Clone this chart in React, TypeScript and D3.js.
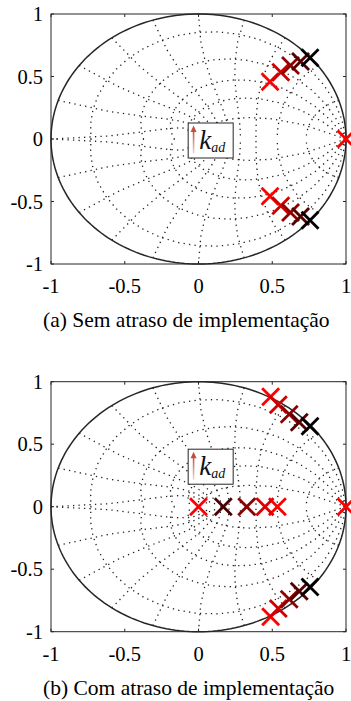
import * as d3 from "d3";

const xTicks = [-1, -0.5, 0, 0.5, 1];
const yTicks = [-1, -0.5, 0, 0.5, 1];
const tickText = ["-1", "-0.5", "0", "0.5", "1"];

// zgrid: damping ratios and natural frequencies (x pi/T)
const zetaLines = [0.1, 0.3, 0.5, 0.7, 0.9];
const wnLines = [0.1, 0.2, 0.3, 0.4, 0.5, 0.6, 0.7, 0.8, 0.9, 1.0];

// colour for each k_ad step, red -> black
const kColors = ["#ff0000", "#d00000", "#900000", "#560000", "#000000"];

// (a) complex pair, one per k_ad step
const polesA: [number, number][] = [
  [0.485, 0.458],
  [0.558, 0.534],
  [0.624, 0.588],
  [0.692, 0.62],
  [0.756, 0.65],
];
// (b)
const polesB: [number, number][] = [
  [0.489, 0.88],
  [0.541, 0.815],
  [0.615, 0.74],
  [0.683, 0.676],
  [0.756, 0.643],
];
const realB = [0.535, 0.451, 0.327, 0.168, 0];
const realBColors = ["#ff0000", "#dd0000", "#8b0000", "#4a0000", "#ff0000"];

const captions = [
  "(a) Sem atraso de implementação",
  "(b) Com atraso de implementação",
];

const FONT = "'Liberation Serif', 'Times New Roman', 'DejaVu Serif', serif";
const serif = { fontFamily: FONT };
const AX = "#262626";

function dampingLines() {
  const out: [number, number][][] = [];
  zetaLines.forEach((z) => {
    const m = Math.tan(Math.asin(z));
    const up: [number, number][] = [];
    const dn: [number, number][] = [];
    for (let k = 0; k <= 20; k++) {
      const w = (k * Math.PI) / 20;
      const r = Math.exp(-m * w);
      up.push([r * Math.cos(w), r * Math.sin(w)]);
      dn.push([r * Math.cos(w), -r * Math.sin(w)]);
    }
    out.push(up, dn);
  });
  return out;
}

function freqLines() {
  const out: [number, number][][] = [];
  wnLines.forEach((f) => {
    const wn = f * Math.PI;
    const up: [number, number][] = [];
    const dn: [number, number][] = [];
    for (let k = 0; k <= 10; k++) {
      const th = Math.PI / 2 + (k * Math.PI) / 20;
      const r = Math.exp(wn * Math.cos(th));
      const a = wn * Math.sin(th);
      up.push([r * Math.cos(a), r * Math.sin(a)]);
      dn.push([r * Math.cos(a), -r * Math.sin(a)]);
    }
    out.push(up, dn);
  });
  return out;
}

const Cross = ({ x, y, color }: { x: number; y: number; color: string }) => {
  const h = 8.5;
  return (
    <g stroke={color} strokeWidth={2.8}>
      <line x1={x - h} y1={y - h} x2={x + h} y2={y + h} />
      <line x1={x - h} y1={y + h} x2={x + h} y2={y - h} />
    </g>
  );
};

const Panel = ({
  top,
  poles,
  real,
  realColors,
  boxY,
  caption,
  id,
}: {
  top: number;
  poles: [number, number][];
  real: number[];
  realColors: string[];
  boxY: number;
  caption: string;
  id: string;
}) => {
  const left = 51;
  const right = 346;
  const bottom = top + 250;
  const x = d3.scaleLinear().domain([-1, 1]).range([left, right]);
  const y = d3.scaleLinear().domain([-1, 1]).range([bottom, top]);
  const line = d3
    .line<[number, number]>()
    .x((d) => x(d[0]))
    .y((d) => y(d[1]));
  const circle = d3.range(0, 201).map((i) => {
    const a = (i / 200) * 2 * Math.PI;
    return [Math.cos(a), Math.sin(a)] as [number, number];
  });
  const grid = [...dampingLines(), ...freqLines()];
  const bx = x(-0.07);
  const by = y(boxY);

  return (
    <g>
      <defs>
        <linearGradient id={"shaft" + id} x1="0" y1="0" x2="0" y2="1">
          <stop offset="0" stopColor="#c0503c" />
          <stop offset="1" stopColor="#f2d6d0" />
        </linearGradient>
      </defs>
      {grid.map((g, i) => (
        <path
          key={i}
          d={line(g) || ""}
          fill="none"
          stroke="#222"
          strokeWidth={1.3}
          strokeDasharray="1.3 4.2"
        />
      ))}
      <path d={line(circle) || ""} fill="none" stroke={AX} strokeWidth={1.5} />
      <rect
        x={left}
        y={top}
        width={right - left}
        height={bottom - top}
        fill="none"
        stroke={AX}
        strokeWidth={1}
      />
      {xTicks.map((t, i) => (
        <g key={"x" + i} stroke={AX} strokeWidth={1}>
          <line x1={x(t)} x2={x(t)} y1={bottom} y2={bottom - 3} />
          <line x1={x(t)} x2={x(t)} y1={top} y2={top + 3} />
        </g>
      ))}
      {yTicks.map((t, i) => (
        <g key={"y" + i} stroke={AX} strokeWidth={1}>
          <line x1={left} x2={left + 3} y1={y(t)} y2={y(t)} />
          <line x1={right} x2={right - 3} y1={y(t)} y2={y(t)} />
        </g>
      ))}
      {xTicks.map((t, i) => (
        <text
          key={"xl" + i}
          x={x(t)}
          y={bottom + 29}
          textAnchor="middle"
          style={serif}
          fontSize={20.5}
          fill="#000"
        >
          {tickText[i]}
        </text>
      ))}
      {yTicks.map((t, i) => (
        <text
          key={"yl" + i}
          x={43}
          y={y(t) + 7}
          textAnchor="end"
          style={serif}
          fontSize={20.5}
          fill="#000"
        >
          {tickText[i]}
        </text>
      ))}
      <g>
        <rect x={bx} y={by - 17.5} width={45} height={35} fill="#fff" stroke={AX} strokeWidth={1} />
        <rect x={bx + 4.6} y={by - 10} width={1.6} height={23} fill={`url(#shaft${id})`} />
        <path
          d={`M${bx + 2.4},${by - 8.5} L${bx + 5.4},${by - 15} L${bx + 8.4},${by - 8.5} Z`}
          fill="#c0503c"
        />
        <text
          x={bx + 11}
          y={by + 8}
          style={serif}
          fontStyle="italic"
          fontSize={27}
          fill="#111"
        >
          k
          <tspan fontSize={14} dy={3}>
            ad
          </tspan>
        </text>
      </g>
      {poles.map((p, i) => (
        <g key={"p" + i}>
          <Cross x={x(p[0])} y={y(p[1])} color={kColors[i]} />
          <Cross x={x(p[0])} y={y(-p[1])} color={kColors[i]} />
        </g>
      ))}
      {real.map((r, i) => (
        <Cross key={"r" + i} x={x(r)} y={y(0)} color={realColors[i]} />
      ))}
      <Cross x={x(1)} y={y(0)} color="#ff0000" />
      <text x={43} y={bottom + 63} style={serif} fontSize={21.5} fill="#000">
        {caption}
      </text>
    </g>
  );
};

export default function App() {
  return (
    <svg
      width={351}
      height={701}
      style={{ position: "absolute", left: 0, top: 0, background: "#fff" }}
    >
      <rect width={351} height={701} fill="#fff" />
      <Panel
        id="a"
        top={14}
        poles={polesA}
        real={[]}
        realColors={[]}
        boxY={-0.012}
        caption={captions[0]}
      />
      <Panel
        id="b"
        top={381.7}
        poles={polesB}
        real={realB}
        realColors={realBColors}
        boxY={0.32}
        caption={captions[1]}
      />
    </svg>
  );
}
